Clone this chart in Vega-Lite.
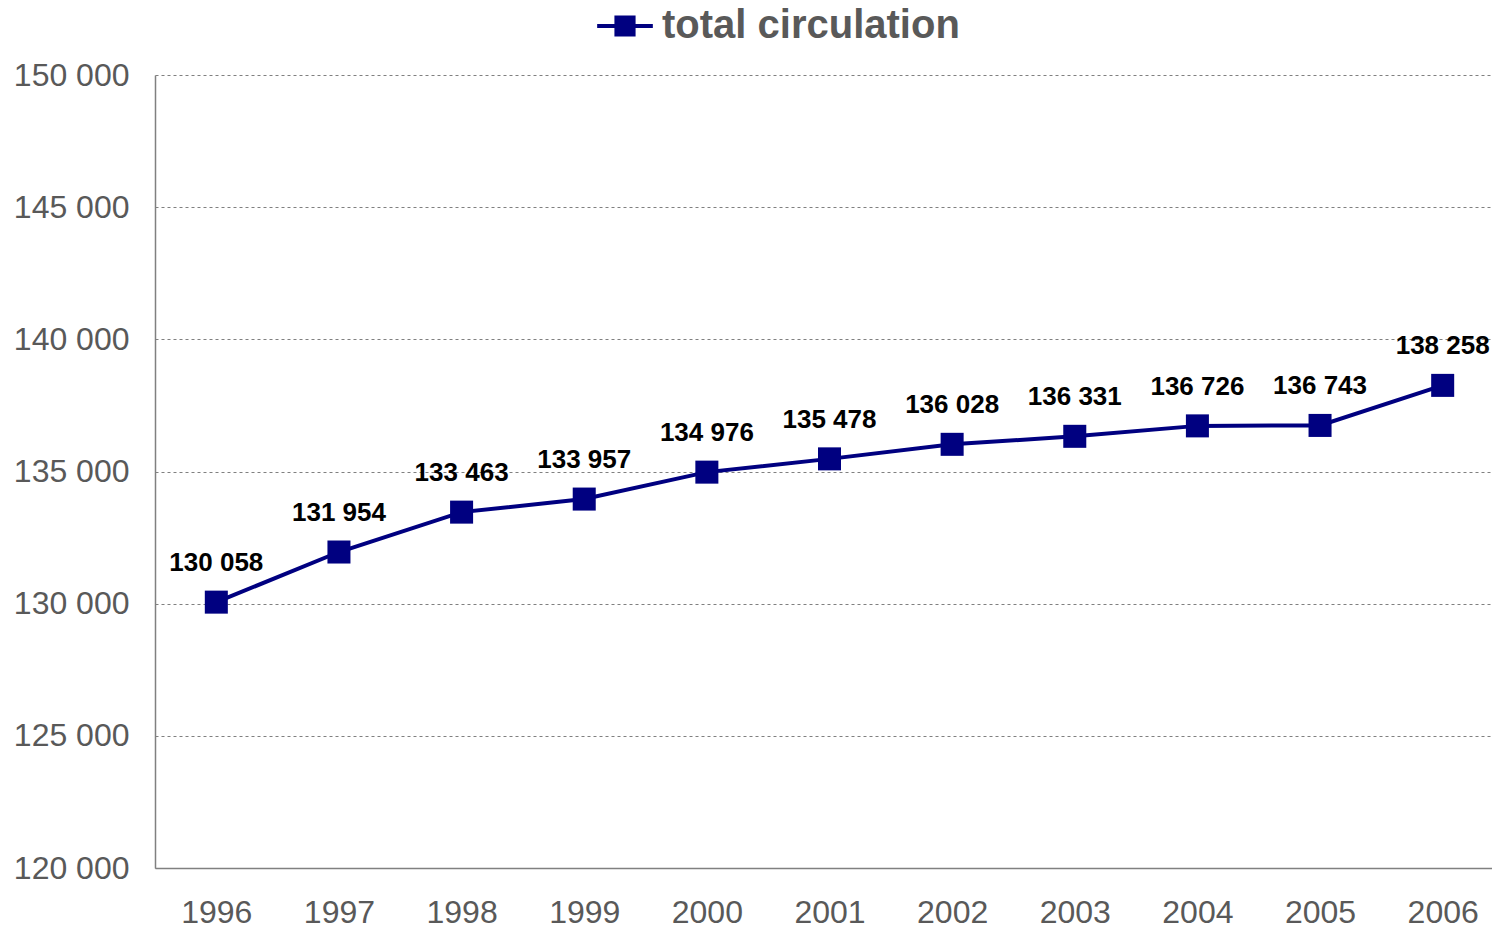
{
  "$schema": "https://vega.github.io/schema/vega-lite/v6.json",
  "width": 1349,
  "height": 793,
  "autosize": "none",
  "padding": {"left": 155, "top": 75, "right": 0, "bottom": 61},
  "background": "white",
  "config": {
    "locale": {"number": {"decimal": ",", "thousands": " ", "grouping": [3], "currency": ["", ""]}},
    "view": {"stroke": null},
    "font": "Liberation Sans"
  },
  "data": {
    "values": [
      {"year": "1996", "value": 130058, "series": "total circulation"},
      {"year": "1997", "value": 131954, "series": "total circulation"},
      {"year": "1998", "value": 133463, "series": "total circulation"},
      {"year": "1999", "value": 133957, "series": "total circulation"},
      {"year": "2000", "value": 134976, "series": "total circulation"},
      {"year": "2001", "value": 135478, "series": "total circulation"},
      {"year": "2002", "value": 136028, "series": "total circulation"},
      {"year": "2003", "value": 136331, "series": "total circulation"},
      {"year": "2004", "value": 136726, "series": "total circulation"},
      {"year": "2005", "value": 136743, "series": "total circulation"},
      {"year": "2006", "value": 138258, "series": "total circulation"}
    ]
  },
  "encoding": {
    "x": {
      "field": "year", "type": "ordinal",
      "scale": {"type": "point", "padding": 0.5},
      "axis": {
        "title": null, "labelAngle": 0, "labelFontSize": 32, "labelColor": "#595959",
        "labelPadding": 29, "ticks": false, "domainColor": "#808080", "domainWidth": 1.5, "grid": false
      }
    },
    "y": {
      "field": "value", "type": "quantitative",
      "scale": {"domain": [120000, 150000], "nice": false, "zero": false},
      "axis": {
        "title": null, "values": [120000, 125000, 130000, 135000, 140000, 145000, 150000],
        "format": ",d", "labelFontSize": 32, "labelColor": "#595959", "labelPadding": 26,
        "ticks": false, "domainColor": "#808080", "domainWidth": 1.5,
        "grid": true, "gridColor": "#808080", "gridDash": [3, 3], "gridWidth": 1.2
      }
    }
  },
  "layer": [
    {
      "mark": {"type": "line", "strokeWidth": 4},
      "encoding": {
        "color": {
          "field": "series", "type": "nominal",
          "scale": {"range": ["#000080"]},
          "legend": {
            "title": null, "orient": "none", "legendX": 442, "legendY": -77,
            "symbolType": "M-1,-0.07H1V0.07H-1Z M-0.38,-0.38H0.38V0.38H-0.38Z",
            "symbolSize": 3100, "symbolFillColor": "#000080", "symbolStrokeWidth": 0,
            "labelFontSize": 40, "labelFontWeight": "bold", "labelColor": "#595959",
            "labelOffset": 9, "labelLimit": 0
          }
        }
      }
    },
    {
      "mark": {"type": "square", "size": 530, "opacity": 1, "filled": true, "color": "#000080"}
    },
    {
      "mark": {"type": "text", "dy": -39, "fontSize": 26, "fontWeight": "bold", "color": "#000000"},
      "encoding": {"text": {"field": "value", "type": "quantitative", "format": ",d"}}
    }
  ]
}
